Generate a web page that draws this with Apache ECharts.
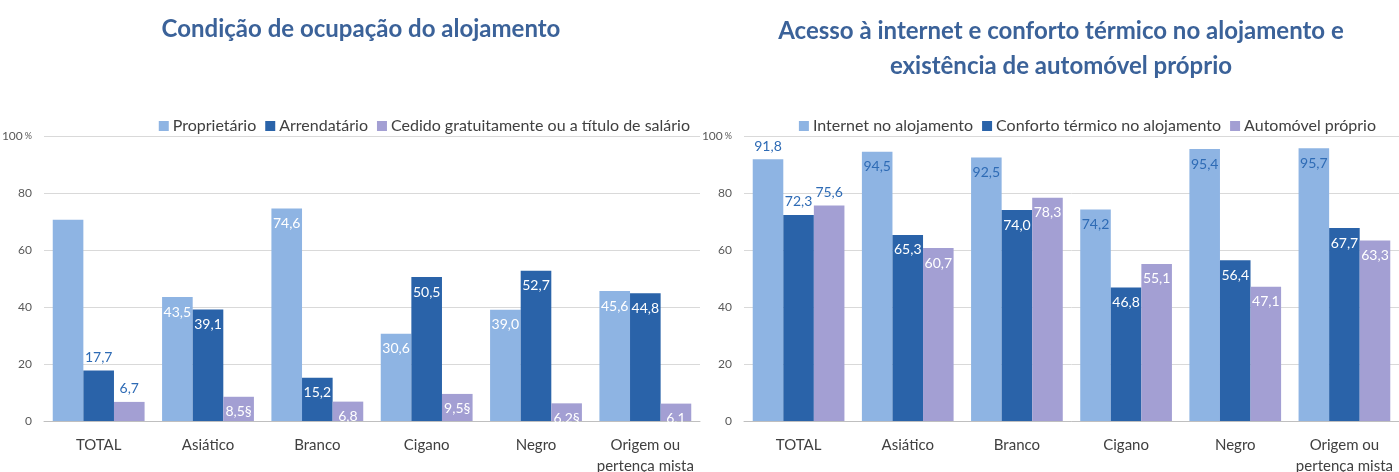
<!DOCTYPE html>
<html>
<head>
<meta charset="utf-8">
<script src="https://cdn.jsdelivr.net/npm/echarts@6/dist/echarts.min.js"></script>
<style>
  html, body { margin: 0; padding: 0; background: #fff; }
  #chart { width: 1399px; height: 472px; }
</style>
</head>
<body>
<div id="chart"></div>
<script>
// categories shared by both panels
var categories = ['TOTAL', 'Asiático', 'Branco', 'Cigano', 'Negro', 'Origem ou\npertença mista']

// left panel: condição de ocupação
var leftNames = ['Proprietário', 'Arrendatário', 'Cedido gratuitamente ou a título de salário']
var proprietario = [70.6, 43.5, 74.6, 30.6, 39.0, 45.6]
var arrendatario = [17.7, 39.1, 15.2, 50.5, 52.7, 44.8]
var cedido = [6.7, 8.5, 6.8, 9.5, 6.2, 6.1]
var cedidoFlag = ['', '§', '', '§', '§', '']

// right panel: internet, conforto, automóvel
var rightNames = ['Internet no alojamento', 'Conforto térmico no alojamento', 'Automóvel próprio']
var internet = [91.8, 94.5, 92.5, 74.2, 95.4, 95.7]
var conforto = [72.3, 65.3, 74.0, 46.8, 56.4, 67.7]
var automovel = [75.6, 60.7, 78.3, 55.1, 47.1, 63.3]

var yTicks = [0, 20, 40, 60, 80, 100]

var colors = ['#8EB4E3', '#2A63A9', '#A39FD3']
var blueText = '#2E6BB5'
var font = 'Lato'

function fmt(v) {
  return v.toFixed(1).replace('.', ',')
}

// build data items: TOTAL label above bar in blue, others inside in white (or blue)
function items(values, flags, insideColor, hideFirst) {
  return values.map(function(v, i) {
    var txt = fmt(v) + (flags ? flags[i] : '')
    if (i === 0) {
      return {
        value: v,
        label: {
          show: !hideFirst,
          position: 'top',
          distance: 6,
          color: blueText,
          formatter: txt
        }
      }
    }
    return {
      value: v,
      label: {
        show: true,
        position: 'insideTop',
        distance: 8,
        color: insideColor,
        formatter: txt
      }
    }
  })
}

function xAxisFor(idx) {
  return {
    type: 'category',
    gridIndex: idx,
    data: categories,
    axisTick: { show: false },
    axisLine: { lineStyle: { color: '#BFBFBF' } },
    axisLabel: {
      color: '#404040',
      fontFamily: font,
      fontSize: 15,
      lineHeight: 21,
      margin: 14,
      interval: 0
    }
  }
}

function yAxisFor(idx) {
  return {
    type: 'value',
    gridIndex: idx,
    min: yTicks[0],
    max: yTicks[yTicks.length - 1],
    interval: 20,
    axisLine: { show: false },
    axisTick: { show: false },
    splitLine: { lineStyle: { color: '#D9D9D9' } },
    axisLabel: {
      color: '#595959',
      fontFamily: font,
      fontSize: 12,
      margin: 12,
      formatter: function(v) {
        return v === 100 ? '100{p|%}' : String(v)
      },
      rich: { p: { fontSize: 9, color: '#595959', padding: [0, 0, 0, 2] } }
    }
  }
}

function bar(name, values, color, idx) {
  return {
    name: name,
    type: 'bar',
    xAxisIndex: idx,
    yAxisIndex: idx,
    data: values,
    barGap: '0%',
    barCategoryGap: '16%',
    itemStyle: { color: color },
    label: { fontFamily: font, fontSize: 14 }
  }
}

var legendText = { color: '#404040', fontSize: 16, fontFamily: font, padding: [0, 0, 0, -1] }

var chart = echarts.init(document.getElementById('chart'))
chart.setOption({
  animation: false,
  textStyle: { fontFamily: font },
  title: [{
    text: 'Condição de ocupação do alojamento',
    left: 356,
    top: 12,
    textAlign: 'center',
    textStyle: { color: '#3B6299', fontSize: 24, fontWeight: 'bold', fontFamily: font }
  }, {
    text: 'Acesso à internet e conforto térmico no alojamento e\nexistência de automóvel próprio',
    left: 1056,
    top: 9,
    textAlign: 'center',
    textStyle: { color: '#3B6299', fontSize: 24, fontWeight: 'bold', fontFamily: font, lineHeight: 35 }
  }],
  legend: [{
    data: leftNames,
    right: 704,
    top: 113,
    itemWidth: 10,
    itemHeight: 10,
    itemGap: 9,
    icon: 'rect',
    textStyle: legendText
  }, {
    data: rightNames,
    right: 18,
    top: 113,
    itemWidth: 10,
    itemHeight: 10,
    itemGap: 9,
    icon: 'rect',
    textStyle: legendText
  }],
  grid: [
    { left: 44, width: 656, top: 136, bottom: 51, outerBoundsMode: 'none', containLabel: false },
    { left: 744, width: 655, top: 136, bottom: 51, outerBoundsMode: 'none', containLabel: false }
  ],
  xAxis: [xAxisFor(0), xAxisFor(1)],
  yAxis: [yAxisFor(0), yAxisFor(1)],
  series: [
    bar(leftNames[0], items(proprietario, null, '#fff', true), colors[0], 0),
    bar(leftNames[1], items(arrendatario, null, '#fff', false), colors[1], 0),
    bar(leftNames[2], items(cedido, cedidoFlag, '#fff', false), colors[2], 0),
    bar(rightNames[0], items(internet, null, blueText, false), colors[0], 1),
    bar(rightNames[1], items(conforto, null, '#fff', false), colors[1], 1),
    bar(rightNames[2], items(automovel, null, '#fff', false), colors[2], 1)
  ]
})
</script>
</body>
</html>
